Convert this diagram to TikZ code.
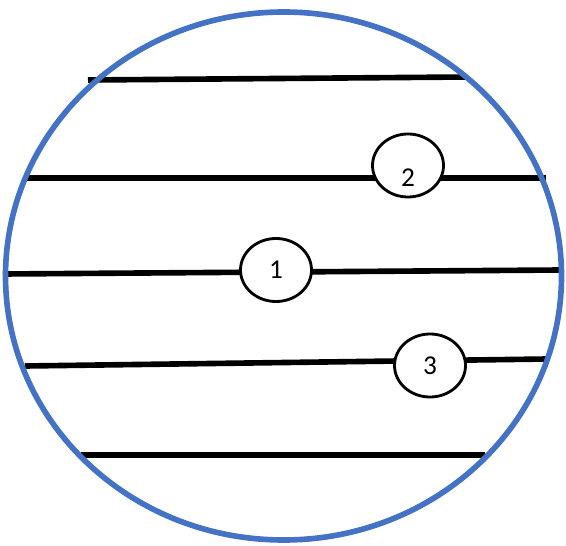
\documentclass[tikz,border=0pt]{standalone}
\usepackage{fontspec}
\setmainfont{Carlito}
\usepackage{tikz}
\usetikzlibrary{shapes.geometric, positioning}
\definecolor{rimblue}{RGB}{68,114,196}

\begin{document}
\begin{tikzpicture}[
    rod/.style={line width=3.2pt},
    bead/.style={ellipse, draw, fill=white, line width=1.6pt, inner sep=0pt, minimum width=1.42cm, minimum height=1.26cm, font=\fontsize{15.5}{18}\selectfont}
]
\useasboundingbox (0,0) rectangle (11.32,-10.92);

% Rod end points
\coordinate (r1a) at (1.76,-1.60);  \coordinate (r1b) at (9.34,-1.54);
\coordinate (r2a) at (0.50,-3.56);  \coordinate (r2b) at (10.92,-3.56);
\coordinate (r3a) at (0.06,-5.48);  \coordinate (r3b) at (11.22,-5.40);
\coordinate (r4a) at (0.50,-7.32);  \coordinate (r4b) at (10.94,-7.18);
\coordinate (r5a) at (1.62,-9.10);  \coordinate (r5b) at (9.70,-9.10);

% Rods
\draw[rod] (r1a) -- (r1b);
\draw[rod] (r2a) -- (r2b);
\draw[rod] (r3a) -- (r3b);
\draw[rod] (r4a) -- (r4b);
\draw[rod] (r5a) -- (r5b);

% Beads on the rods
\node[bead, text height=0.86cm, text depth=0pt] (b2) at (8.16,-3.31) {2};
\node[bead] (b1) at (5.52,-5.40) {1};
\node[bead] (b3) at (8.60,-7.31) {3};

% Outer rim
\draw[rimblue, line width=3.2pt] (5.67,-5.52) ellipse (5.56 and 5.28);
\end{tikzpicture}
\end{document}
